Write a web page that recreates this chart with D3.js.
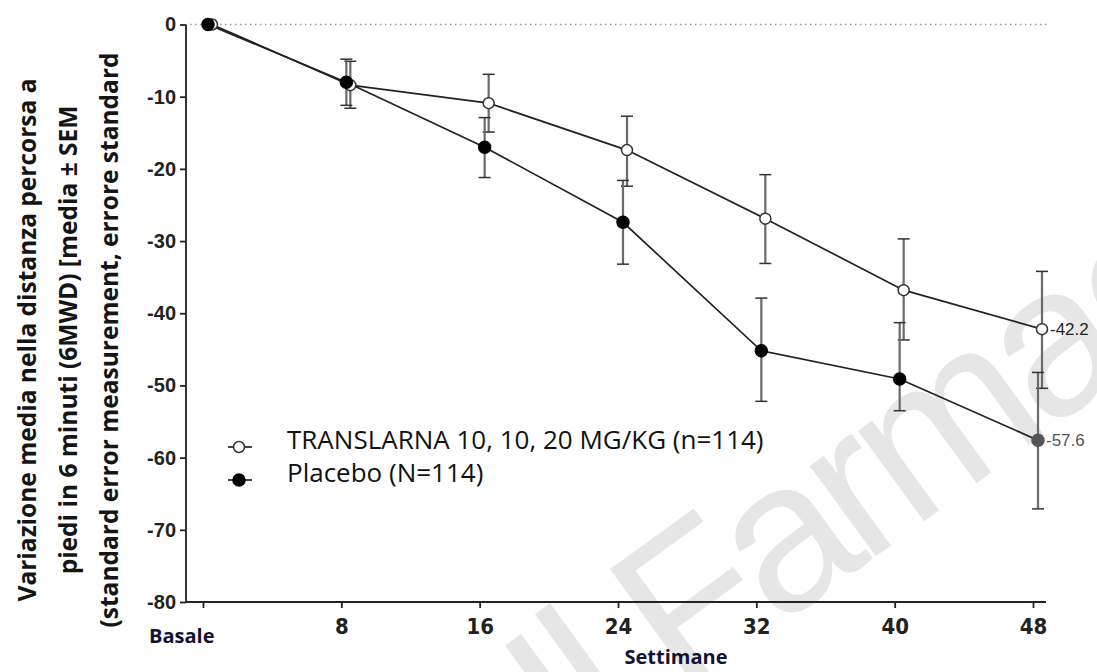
<!DOCTYPE html>
<html>
<head>
<meta charset="utf-8">
<script src="https://cdn.jsdelivr.net/npm/d3@7"></script>
<style>
  html, body { margin: 0; padding: 0; background: #fff; }
  svg { display: block; }
</style>
</head>
<body>
<svg id="chart" width="1097" height="672"></svg>
<script>
// settimane e valori
const weeks = [0, 8, 16, 24, 32, 40, 48];
const weekLabels = ["Basale", "8", "16", "24", "32", "40", "48"];
const yTicks = [0, -10, -20, -30, -40, -50, -60, -70, -80];

const translarnaMean  = [0, -8.4, -10.9, -17.4, -26.9, -36.8, -42.2];
const translarnaUpper = [0, -5.1, -6.9, -12.7, -20.8, -29.7, -34.2];
const translarnaLower = [0, -11.6, -14.9, -22.4, -33.1, -43.7, -50.4];

const placeboMean  = [0, -8.0, -17.0, -27.4, -45.2, -49.1, -57.6];
const placeboUpper = [0, -4.8, -12.9, -21.6, -37.9, -41.3, -48.2];
const placeboLower = [0, -11.2, -21.2, -33.2, -52.2, -53.5, -67.1];

const legendLabels = ["TRANSLARNA 10, 10, 20 MG/KG (n=114)", "Placebo (N=114)"];
const yTitle = [
  "Variazione media nella distanza percorsa a",
  "piedi in 6 minuti (6MWD) [media \u00b1 SEM",
  "(standard error measurement, errore standard"
];

const svg = d3.select('#chart');

const x = d3.scaleLinear().domain([0, 48]).range([203, 1033]);
const y = d3.scaleLinear().domain([0, -80]).range([24.5, 602]);

// trattino normale al posto del segno meno unicode
const fmt = v => String(v);

// filigrana in fondo
svg.append('text')
  .attr('transform', 'translate(575,775) rotate(-36)')
  .style('font-family', 'Liberation Sans, sans-serif')
  .style('font-size', '212px')
  .style('letter-spacing', '-11px')
  .style('fill', '#e6e6e6')
  .text('Il Farmacista');

// linea dello zero
svg.append('line')
  .attr('x1', 190).attr('x2', 1048)
  .attr('y1', y(0)).attr('y2', y(0))
  .style('stroke', '#9a9a9a')
  .style('stroke-width', 1.5)
  .style('stroke-dasharray', '1.5,3.5');

// assi
const yAxis = svg.append('g')
  .attr('transform', 'translate(186,0)')
  .call(d3.axisLeft(y).tickValues(yTicks).tickSize(6).tickPadding(4).tickFormat(fmt));
yAxis.select('.domain').attr('d', `M0,${y(0)}V${y(-80)}`).style('stroke', '#222').style('stroke-width', 1.8);
yAxis.selectAll('.tick line').style('stroke', '#222').style('stroke-width', 1.8);
yAxis.selectAll('.tick text')
  .style('font-family', 'Liberation Sans, Arial, sans-serif')
  .style('font-weight', 'bold')
  .style('font-size', '20px')
  .style('fill', '#222');

const xAxis = svg.append('g')
  .attr('transform', `translate(0,${y(-80)})`)
  .call(d3.axisBottom(x).tickValues(weeks).tickSize(6).tickFormat((d, i) => i === 0 ? '' : weekLabels[i]));
xAxis.select('.domain').attr('d', 'M186,0H1046').style('stroke', '#222').style('stroke-width', 1.8);
xAxis.selectAll('.tick line').style('stroke', '#222').style('stroke-width', 1.8);
xAxis.selectAll('.tick text')
  .attr('dy', '1.05em')
  .style('font-family', 'Liberation Sans Narrow, DejaVu Sans Condensed, sans-serif')
  .style('font-weight', 'bold')
  .style('font-size', '22px')
  .style('fill', '#222');

svg.append('text')
  .attr('x', 149).attr('y', 643)
  .style('font-family', 'Open Sans, sans-serif')
  .style('font-weight', 'bold')
  .style('font-size', '20px')
  .style('fill', '#121235')
  .text(weekLabels[0]);

svg.append('text')
  .attr('x', 676).attr('y', 664)
  .attr('text-anchor', 'middle')
  .style('font-family', 'Open Sans, sans-serif')
  .style('font-weight', 'bold')
  .style('font-size', '20px')
  .style('fill', '#121235')
  .text('Settimane');

// titolo asse y
svg.append('g')
  .attr('transform', 'translate(0,340) rotate(-90)')
  .selectAll('text')
  .data(yTitle)
  .enter()
  .append('text')
  .attr('x', 0)
  .attr('y', (d, i) => 36 + i * 41)
  .attr('text-anchor', 'middle')
  .style('font-family', 'Open Sans, sans-serif')
  .style('font-weight', 'bold')
  .style('font-size', '24.5px')
  .style('fill', '#151515')
  .text(d => d);

// serie
const series = [
  {name: legendLabels[0], mean: translarnaMean, upper: translarnaUpper, lower: translarnaLower, dodge: 9, open: true},
  {name: legendLabels[1], mean: placeboMean, upper: placeboUpper, lower: placeboLower, dodge: 5, open: false}
];

const line = d3.line()
  .x(d => d.px)
  .y(d => y(d.v));

series.forEach(s => {
  const pts = weeks.map((w, i) => ({
    px: x(w) + s.dodge,
    v: s.mean[i],
    hi: s.upper[i],
    lo: s.lower[i],
    last: i === weeks.length - 1
  }));

  svg.append('path')
    .datum(pts)
    .attr('d', line)
    .style('fill', 'none')
    .style('stroke', '#222')
    .style('stroke-width', 1.7);

  const bars = svg.append('g').selectAll('g')
    .data(pts.filter(p => p.hi !== p.lo))
    .enter()
    .append('g');

  bars.append('line')
    .attr('x1', d => d.px).attr('x2', d => d.px)
    .attr('y1', d => y(d.hi)).attr('y2', d => y(d.lo))
    .style('stroke', '#6a6a6a')
    .style('stroke-width', 2.2);

  bars.selectAll('line.cap')
    .data(d => [d.hi, d.lo].map(v => ({px: d.px, v})))
    .enter()
    .append('line')
    .classed('cap', true)
    .attr('x1', d => d.px - 6).attr('x2', d => d.px + 6)
    .attr('y1', d => y(d.v)).attr('y2', d => y(d.v))
    .style('stroke', '#333')
    .style('stroke-width', 1.5);

  s.pts = pts;
});

// marcatori sopra le barre
series.forEach(s => {
  svg.append('g').selectAll('circle')
    .data(s.pts)
    .enter()
    .append('circle')
    .attr('cx', d => d.px)
    .attr('cy', d => y(d.v))
    .attr('r', s.open ? 5.5 : 6)
    .style('fill', d => s.open ? '#fff' : (d.last ? '#555' : '#000'))
    .style('stroke', d => s.open ? '#333' : (d.last ? '#555' : '#000'))
    .style('stroke-width', 1.5);

  const last = s.pts[s.pts.length - 1];
  svg.append('text')
    .attr('x', last.px + 8)
    .attr('y', y(last.v))
    .attr('dy', '0.35em')
    .style('font-family', 'Liberation Sans, Arial, sans-serif')
    .style('font-size', '17px')
    .style('fill', s.open ? '#222' : '#555')
    .text(last.v.toFixed(1));
});

// legenda
const legend = svg.append('g')
  .selectAll('g')
  .data(series)
  .enter()
  .append('g')
  .attr('transform', (d, i) => `translate(239,${447 + i * 33})`);

legend.append('line')
  .attr('x1', -11).attr('x2', 13)
  .style('stroke', '#222')
  .style('stroke-width', 1.7);

legend.append('circle')
  .attr('r', d => d.open ? 5.5 : 6)
  .style('fill', d => d.open ? '#fff' : '#000')
  .style('stroke', d => d.open ? '#333' : '#000')
  .style('stroke-width', 1.5);

legend.append('text')
  .attr('x', 48)
  .attr('y', 2)
  .style('font-family', 'Open Sans, sans-serif')
  .style('font-size', '26px')
  .style('fill', '#111')
  .text(d => d.name);
</script>
</body>
</html>
